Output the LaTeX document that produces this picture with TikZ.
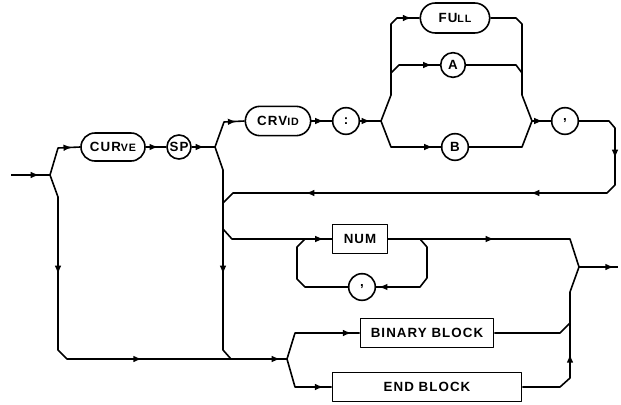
\documentclass[tikz,border=0pt]{standalone}
\usepackage{fontspec}
\setmainfont{Liberation Sans}[LetterSpace=8]
\usetikzlibrary{shapes.misc,decorations.markings,arrows.meta}
\newcommand{\lowcap}{\fontsize{8}{9}\selectfont}
\newcommand{\tip}{\arrow{Latex[length=6.5pt,width=5pt]}}

\begin{document}
\begin{tikzpicture}[
  x=0.75pt, y=-0.75pt, line width=1.2pt, line join=round,
  font=\bfseries\fontsize{10}{11}\selectfont,
  kw/.style={draw, rounded rectangle, minimum height=21pt, inner sep=2pt},
  blk/.style={draw, rectangle, minimum height=22pt, inner sep=2pt},
  ch/.style={draw, circle, minimum size=20pt, inner sep=0pt},
  fl/.style={postaction={decorate, draw=none}, decoration={markings,
    mark=at position #1 with {\tip}}},
  fl/.default=-6pt
]
\useasboundingbox (0,0) rectangle (621,404);
% ---------------- keywords and symbols ------------------------------------
\node[kw, minimum width=52pt] (curve) at (113,147) {CUR{\lowcap VE}};
\node[ch, minimum size=18pt] (sp) at (179,147) {SP};
\node[kw, minimum width=53pt, minimum height=22pt] (crvid) at (278,121) {CRV{\lowcap ID}};
\node[ch] (colon) at (346,121) {:};
\node[kw, minimum width=56pt, minimum height=22.5pt] (full) at (455,18) {FU{\lowcap LL}};
\node[ch, minimum size=18.5pt] (a) at (453,65) {A};
\node[ch] (b) at (455,147) {B};
\node[ch] (cm1) at (565,121) {,};
\node[blk, minimum width=41pt] (num) at (360,239) {NUM};
\node[ch] (cm2) at (362,287) {,};
\node[blk, minimum width=100pt] (bin) at (427,333) {BINARY BLOCK};
\node[blk, minimum width=142pt] (endb) at (427,387) {END BLOCK};
% ---------------- junctions ------------------------------------------------
\coordinate (in) at (11,175);
\coordinate (j1) at (50,175);
\coordinate (j2) at (215,147);
\coordinate (j3) at (381,121);
\coordinate (j4) at (532,121);
\coordinate (j5) at (287,359);
\coordinate (j6) at (579,267);
\coordinate (out) at (618,267);
\coordinate (ka) at (391,73);
\coordinate (kb) at (522,73);
\coordinate (kn) at (223,229);
\coordinate (r1) at (615,165);
\coordinate (r2) at (520,193);
\coordinate (r3) at (295,193);
\coordinate (d1) at (58,285);
\coordinate (d2) at (150,359);
\coordinate (d3) at (223,285);
\coordinate (l1) at (420,239);
\coordinate (l2) at (505,239);
\coordinate (u1) at (570,350);
% ---------------- CURVE SP CRVID : ----------------------------------------
\draw[fl=-8pt] (in) -- (j1);
\draw[fl] (j1) -- (58,148) -- (curve.west);
\draw[fl] (curve.east) -- (sp.west);
\draw[fl=-8pt] (sp.east) -- (j2);
\draw[fl] (j2) -- (224,122) -- (crvid.west);
\draw[fl] (crvid.east) -- (colon.west);
\draw[fl=-8pt] (colon.east) -- (j3);
% ---------------- FULL / A / B --------------------------------------------
\draw[fl] (j3) -- (391,95) -- (391,24) -- (397,18) -- (full.west);
\draw[fl] (ka) -- (399,65) -- (a.west);
\draw[fl] (j3) -- (391,147) -- (b.west);
\draw (full.east) -- (516,18) -- (522,24) -- (522,95) -- (j4);
\draw (a.east) -- (516,65) -- (kb);
\draw (b.east) -- (522,147) -- (j4);
\draw[fl] (j4) -- (cm1.west);
% ---------------- repeat after comma --------------------------------------
\draw[fl=-5pt] (cm1.east) -- (609,121) -- (615,128) -- (r1);
\draw[fl=-8pt] (r1) -- (615,185) -- (607,193) -- (r2);
\draw[fl=-8pt] (r2) -- (r3);
\draw (r3) -- (233,193) -- (223,203);
% ---------------- down lines and bottom rail ------------------------------
\draw[fl=-8pt] (j1) -- (58,197) -- (d1);
\draw[fl=-6pt] (d1) -- (58,350) -- (67,359) -- (d2);
\draw[fl=-5pt] (d2) -- (j5);
\draw[fl=-8pt] (j2) -- (223,170) -- (d3);
\draw (d3) -- (223,350) -- (231,359);
% ---------------- NUM with comma loop -------------------------------------
\draw[fl] (kn) -- (232,239) -- (num.west);
\draw (num.east) -- (l1);
\draw[fl=-8pt] (l1) -- (l2);
\draw (l2) -- (570,239) -- (j6);
\draw[fl=-2pt] (l1) -- (427,247) -- (427,278) -- (420,287) -- (cm2.east);
\draw (cm2.west) -- (305,287) -- (297,279) -- (297,247) -- (305,239);
% ---------------- blocks --------------------------------------------------
\draw[fl] (j5) -- (295,333) -- (bin.west);
\draw[fl] (j5) -- (295,387) -- (endb.west);
\draw[fl=-3pt] (endb.east) -- (560,387) -- (570,378) -- (u1);
\draw (u1) -- (570,292) -- (j6);
\draw (bin.east) -- (560,333) -- (570,323);
\draw[fl=-3pt] (j6) -- (out);
\end{tikzpicture}
\end{document}
